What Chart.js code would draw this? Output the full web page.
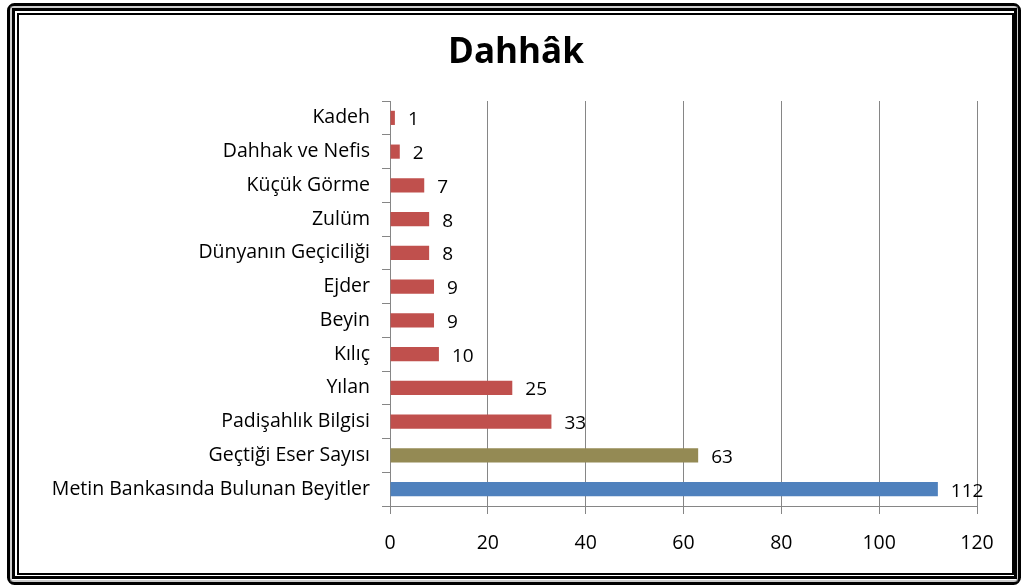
<!DOCTYPE html>
<html>
<head>
<meta charset="utf-8">
<script src="https://cdn.jsdelivr.net/npm/chart.js@4"></script>
<style>
  html, body { margin: 0; padding: 0; background: #fff; }
  #wrap { width: 1021px; height: 588px; }
</style>
</head>
<body>
<div id="wrap"><canvas id="chart" width="1021" height="588"></canvas></div>
<script>
// Categories, top to bottom
const categories = [
  'Kadeh', 'Dahhak ve Nefis', 'Küçük Görme', 'Zulüm', 'Dünyanın Geçiciliği',
  'Ejder', 'Beyin', 'Kılıç', 'Yılan', 'Padişahlık Bilgisi',
  'Geçtiği Eser Sayısı', 'Metin Bankasında Bulunan Beyitler'
];
const counts = [1, 2, 7, 8, 8, 9, 9, 10, 25, 33, 63, 112];
const barColors = [
  '#C0504D', '#C0504D', '#C0504D', '#C0504D', '#C0504D', '#C0504D',
  '#C0504D', '#C0504D', '#C0504D', '#C0504D', '#948A54', '#4F81BD'
];
const xTicks = [0, 20, 40, 60, 80, 100, 120];
const chartTitle = 'Dahhâk';

const FONT = '"Open Sans", sans-serif';

// title, centred on the picture rather than on the layout box
const titleText = {
  id: 'titleText',
  afterDraw(chart) {
    const ctx = chart.ctx;
    ctx.save();
    ctx.font = 'bold 35px ' + FONT;
    ctx.fillStyle = '#000';
    ctx.textAlign = 'center';
    ctx.textBaseline = 'alphabetic';
    ctx.fillText(chartTitle, 516, 63);
    ctx.restore();
  }
};

// value labels next to each bar
const valueLabels = {
  id: 'valueLabels',
  afterDatasetsDraw(chart) {
    const ctx = chart.ctx;
    const meta = chart.getDatasetMeta(0);
    ctx.save();
    ctx.font = '19px ' + FONT;
    ctx.fillStyle = '#000';
    ctx.textAlign = 'left';
    ctx.textBaseline = 'middle';
    meta.data.forEach((bar, i) => {
      ctx.fillText(String(counts[i]), bar.x + 13, bar.y + 2);
    });
    ctx.restore();
  }
};

// double frame around the whole picture
const frame = {
  id: 'frame',
  afterDraw(chart) {
    const ctx = chart.ctx;
    ctx.save();
    ctx.strokeStyle = '#000';
    ctx.lineWidth = 3;
    ctx.beginPath();
    ctx.roundRect(8.5, 4.5, 1011, 579, 6);
    ctx.stroke();
    ctx.strokeStyle = '#999';
    ctx.lineWidth = 1;
    ctx.strokeRect(11, 7, 1006, 574);
    ctx.strokeStyle = '#000';
    ctx.lineWidth = 3;
    ctx.strokeRect(13.5, 9.5, 1002, 568);
    ctx.lineWidth = 2;
    ctx.strokeRect(18, 14, 995, 560);
    ctx.restore();
  }
};

new Chart(document.getElementById('chart'), {
  type: 'bar',
  data: {
    labels: categories,
    datasets: [{
      data: counts,
      backgroundColor: barColors,
      categoryPercentage: 1,
      barPercentage: 0.42
    }]
  },
  options: {
    indexAxis: 'y',
    responsive: false,
    animation: false,
    layout: { padding: { left: 30, right: 44, top: 101, bottom: 0 } },
    plugins: {
      legend: { display: false },
      tooltip: { enabled: false },
      title: { display: false }
    },
    scales: {
      x: {
        min: 0,
        max: 120,
        afterBuildTicks(scale) { scale.ticks = xTicks.map(v => ({ value: v })); },
        afterFit(scale) { scale.height = 82; },
        grid: { color: '#868686', tickLength: 8, lineWidth: 1 },
        border: { color: '#868686' },
        ticks: { color: '#000', padding: 18, font: { family: FONT, size: 19.5 } }
      },
      y: {
        afterFit(scale) { scale.width = 360; },
        grid: { drawOnChartArea: false, color: '#868686', tickLength: 8 },
        border: { color: '#868686' },
        ticks: { color: '#000', padding: 12, font: { family: FONT, size: 19.5 } }
      }
    }
  },
  plugins: [titleText, valueLabels, frame]
});
</script>
</body>
</html>
